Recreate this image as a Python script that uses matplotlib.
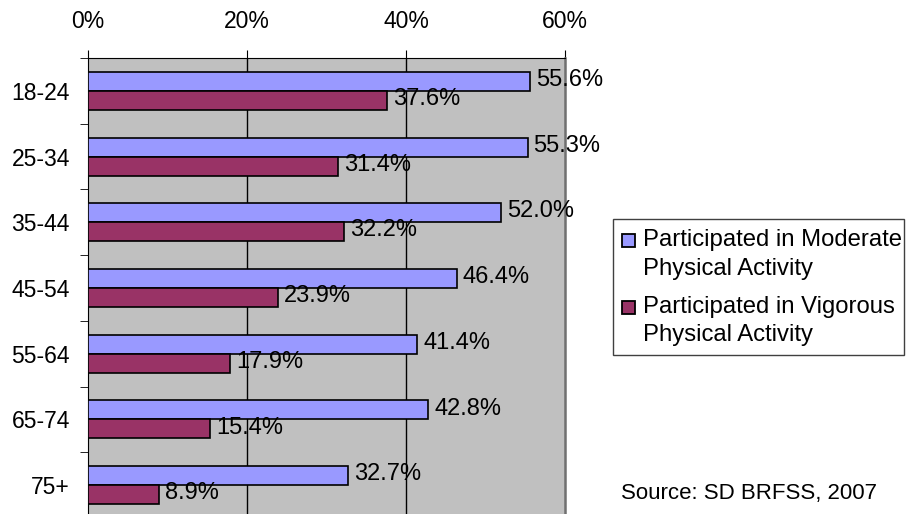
import matplotlib.pyplot as plt
from matplotlib.patches import Rectangle
import numpy as np

plt.rcParams['font.family'] = ['Liberation Sans', 'DejaVu Sans']

# age groups and participation rates (%)
ages = ['18-24', '25-34', '35-44', '45-54', '55-64', '65-74', '75+']
moderate = [55.6, 55.3, 52.0, 46.4, 41.4, 42.8, 32.7]
vigorous = [37.6, 31.4, 32.2, 23.9, 17.9, 15.4, 8.9]
xticks = [0, 20, 40, 60]
legend_labels = [['Participated in Moderate', 'Physical Activity'],
                 ['Participated in Vigorous', 'Physical Activity']]
colors = ['#9999FF', '#993366']

W, H = 906, 514
fig = plt.figure(figsize=(W / 100, H / 100), dpi=100)
ax = fig.add_axes([88 / W, 1 - 518 / H, 477 / W, 460 / H])
ax.set_facecolor('#C0C0C0')

y = np.arange(len(ages))
h = 0.29
b1 = ax.barh(y - h / 2, moderate, height=h, color=colors[0], edgecolor='black',
             linewidth=1.2, zorder=3)
b2 = ax.barh(y + h / 2, vigorous, height=h, color=colors[1], edgecolor='black',
             linewidth=1.2, zorder=3)

for bars, vals in [(b1, moderate), (b2, vigorous)]:
    for bar, v in zip(bars, vals):
        ax.text(v + 0.75, bar.get_y() + bar.get_height() / 2 - 0.02, f'{v:.1f}%',
                va='center', ha='left', fontsize=17, zorder=4)

ax.set_xlim(0, 60)
ax.set_ylim(len(ages) - 0.5, -0.5)
ax.xaxis.tick_top()
ax.set_xticks(xticks)
ax.set_xticklabels([f'{t}%' for t in xticks], fontsize=16.5)
ax.tick_params(axis='x', length=6, pad=12, color='black')

ax.set_yticks(y)
ax.set_yticklabels(ages, fontsize=16.5)
ax.set_yticks(np.arange(len(ages) + 1) - 0.5, minor=True)
ax.tick_params(axis='y', which='major', length=0, pad=13)
ax.tick_params(axis='y', which='minor', length=6, color='black')

for g in [20, 40]:
    ax.axvline(g, color='black', linewidth=1, zorder=1)

ax.spines['bottom'].set_visible(False)
ax.spines['right'].set_color('#707070')
ax.spines['right'].set_linewidth(1.8)
ax.spines['left'].set_color('black')
ax.spines['top'].set_color('black')

# legend box drawn by hand so the swatch sits on the first text line
fig.patches.append(Rectangle((613 / W, 1 - 355 / H), 291 / W, 136 / H,
                             transform=fig.transFigure, facecolor='white',
                             edgecolor='#404040', linewidth=1))
for i, (lines, c) in enumerate(zip(legend_labels, colors)):
    base = 246 + i * 67
    fig.patches.append(Rectangle((622 / W, 1 - (base + 1) / H), 13 / W, 13 / H,
                                 transform=fig.transFigure, facecolor=c,
                                 edgecolor='black', linewidth=1.3))
    for j, line in enumerate(lines):
        fig.text(643 / W, 1 - (base + j * 28.5) / H, line, fontsize=17.2,
                 va='baseline', ha='left')

fig.text(621 / W, 1 - 499 / H, 'Source: SD BRFSS, 2007', fontsize=16,
         va='baseline', ha='left')

fig.savefig('out.png', dpi=100)
